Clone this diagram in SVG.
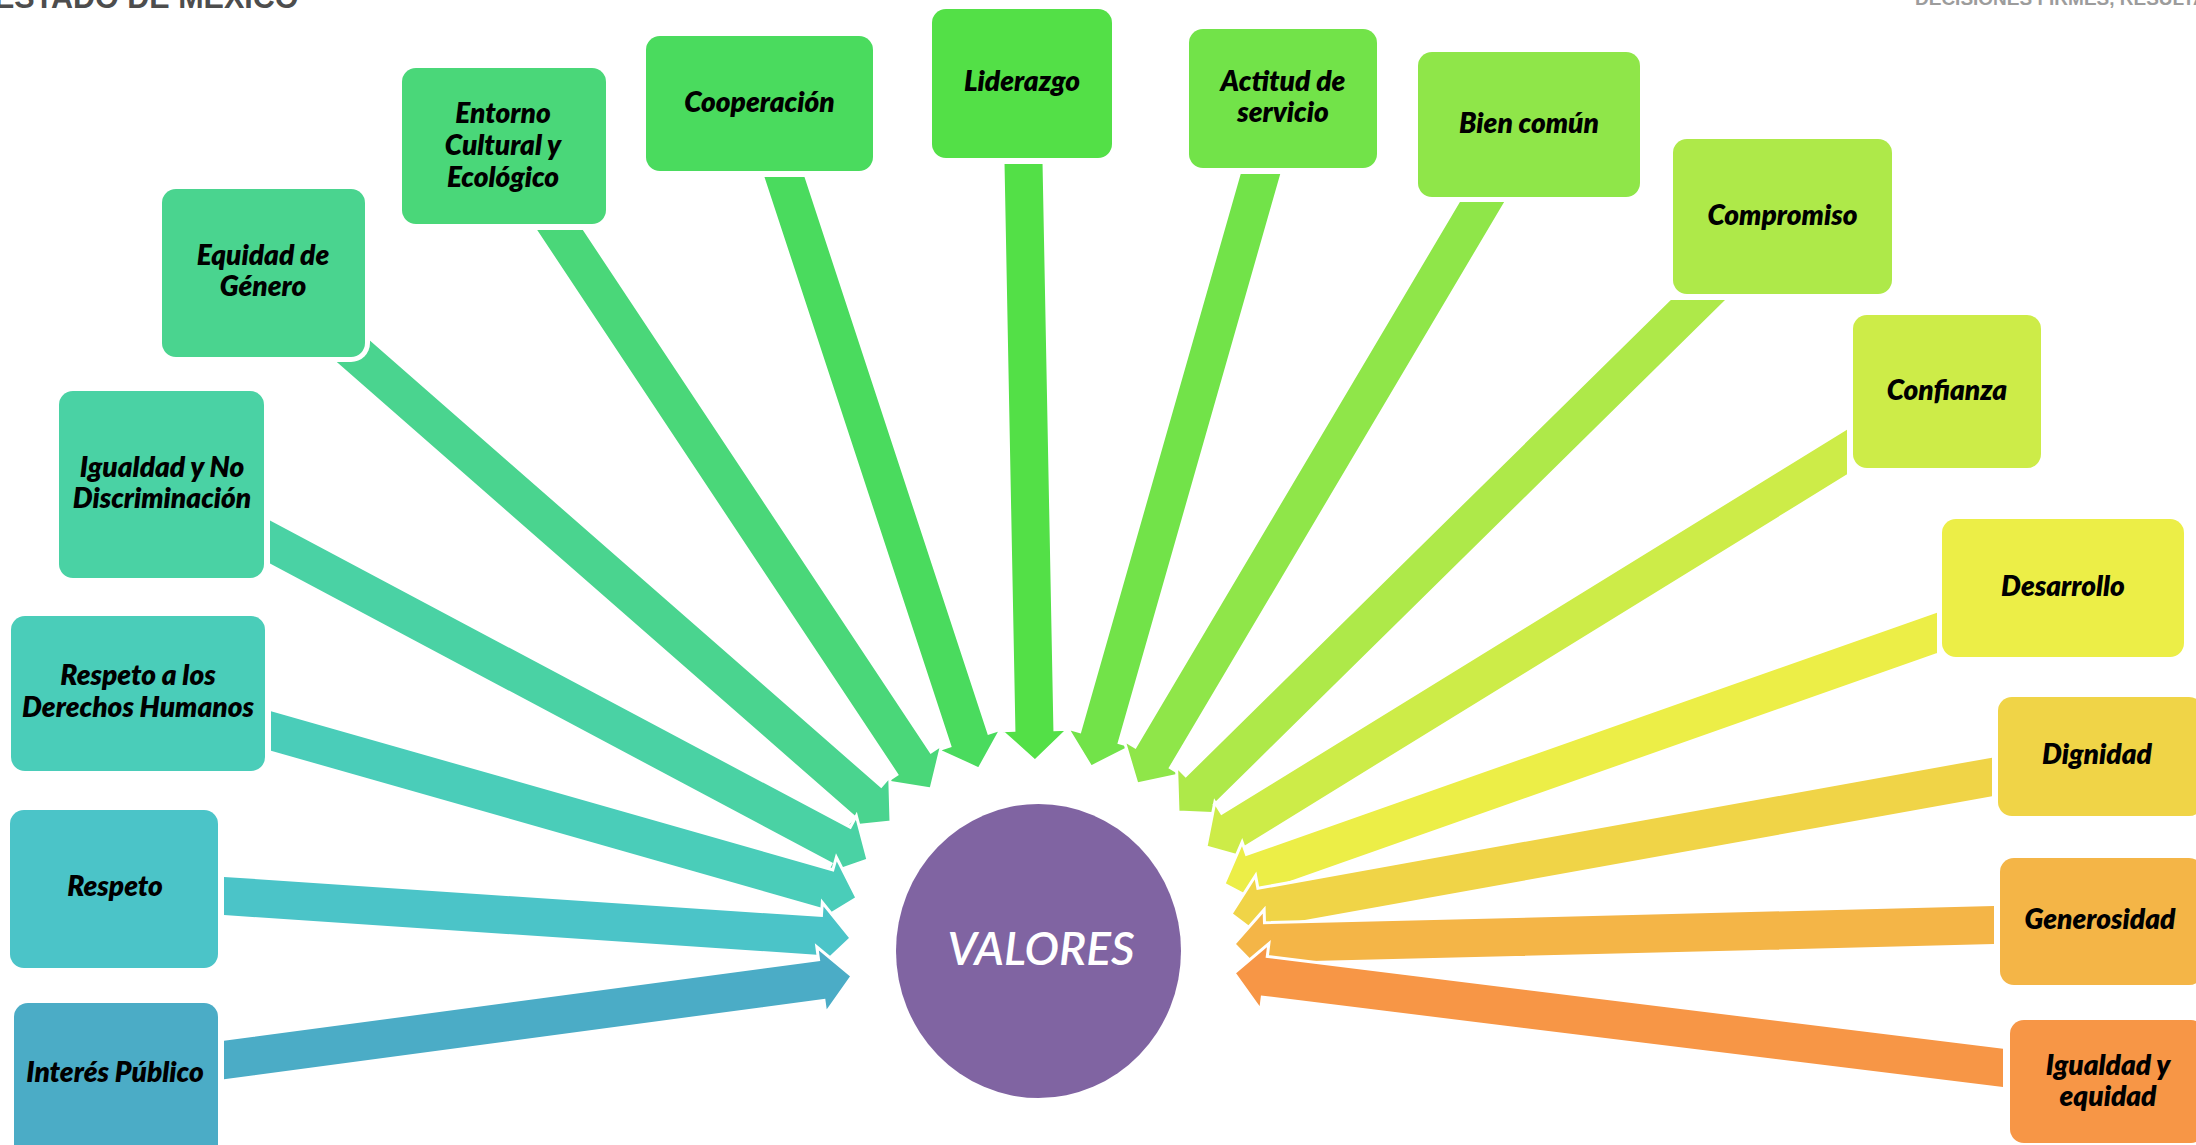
<svg xmlns="http://www.w3.org/2000/svg" width="2196" height="1145" viewBox="0 0 2196 1145">
<style>
.lbl{font-family:Lato,"Open Sans","Liberation Sans",sans-serif;font-weight:800;font-style:italic;font-size:28px;fill:#000;text-anchor:middle}
.pad{fill:#fff}
.arr{stroke:#fff;stroke-width:3;stroke-linejoin:miter}
.hdr{font-family:"Liberation Sans",Arial,sans-serif;font-weight:700}
</style>
<defs>
<clipPath id="c1"><rect x="224" y="0" width="1972" height="1145"/></clipPath>
<clipPath id="c3"><rect x="271" y="0" width="1925" height="1145"/></clipPath>
<clipPath id="c4"><rect x="270" y="0" width="1926" height="1145"/></clipPath>
<clipPath id="c6"><rect x="0" y="230" width="2196" height="915"/></clipPath>
<clipPath id="c7"><rect x="0" y="177" width="2196" height="968"/></clipPath>
<clipPath id="c8"><rect x="0" y="164" width="2196" height="981"/></clipPath>
<clipPath id="c9"><rect x="0" y="174" width="2196" height="971"/></clipPath>
<clipPath id="c10"><rect x="0" y="202" width="2196" height="943"/></clipPath>
<clipPath id="c11"><rect x="0" y="300" width="2196" height="845"/></clipPath>
<clipPath id="c12"><rect x="0" y="0" width="1847" height="1145"/></clipPath>
<clipPath id="c13"><rect x="0" y="0" width="1937" height="1145"/></clipPath>
<clipPath id="c14"><rect x="0" y="0" width="1992" height="1145"/></clipPath>
<clipPath id="c15"><rect x="0" y="0" width="1994" height="1145"/></clipPath>
<clipPath id="c16"><rect x="0" y="0" width="2003" height="1145"/></clipPath>
</defs>
<rect x="0" y="0" width="2196" height="1145" fill="#fff"/>
<text class="hdr" x="-6" y="8" font-size="30.5" fill="#4d4d4d">ESTADO DE MÉXICO</text>
<text class="hdr" x="1915" y="5" font-size="19" fill="#9c9c9c">DECISIONES FIRMES, RESULTADOS FUERTES</text>
<g id="connectors">
<g clip-path="url(#c8)"><polygon class="arr" fill="#53E047" transform="translate(1035 761) rotate(88.90)" points="-637,-20.5 -31,-20.5 -31,-33.5 0,0 -31,33.5 -31,20.5 -637,20.5"/></g>
<g clip-path="url(#c7)"><polygon class="arr" fill="#4ADB5E" transform="translate(979 769) rotate(71.81)" points="-663,-20.5 -31,-20.5 -31,-33.5 0,0 -31,33.5 -31,20.5 -663,20.5"/></g>
<g clip-path="url(#c6)"><polygon class="arr" fill="#4AD779" transform="translate(931 789) rotate(56.43)" points="-711,-20.5 -31,-20.5 -31,-33.5 0,0 -31,33.5 -31,20.5 -711,20.5"/></g>
<g><polygon class="arr" fill="#4AD48F" transform="translate(891 822) rotate(41.20)" points="-729,-20.5 -31,-20.5 -31,-33.5 0,0 -31,33.5 -31,20.5 -729,20.5"/></g>
<g clip-path="url(#c4)"><polygon class="arr" fill="#4AD2A4" transform="translate(868 860) rotate(28.00)" points="-717,-20.5 -31,-20.5 -31,-33.5 0,0 -31,33.5 -31,20.5 -717,20.5"/></g>
<g clip-path="url(#c3)"><polygon class="arr" fill="#4ACDB9" transform="translate(857 898) rotate(15.91)" points="-649,-20.5 -31,-20.5 -31,-33.5 0,0 -31,33.5 -31,20.5 -649,20.5"/></g>
<g clip-path="url(#c1)"><polygon class="arr" fill="#4BC4C8" transform="translate(851 938) rotate(3.83)" points="-668,-20.5 -31,-20.5 -31,-33.5 0,0 -31,33.5 -31,20.5 -668,20.5"/></g>
<g clip-path="url(#c1)"><polygon class="arr" fill="#4BACC6" transform="translate(852 976) rotate(-7.62)" points="-674,-20.5 -31,-20.5 -31,-33.5 0,0 -31,33.5 -31,20.5 -674,20.5"/></g>
<g clip-path="url(#c9)"><polygon class="arr" fill="#72E349" transform="translate(1091 767) rotate(105.95)" points="-657,-20.5 -31,-20.5 -31,-33.5 0,0 -31,33.5 -31,20.5 -657,20.5"/></g>
<g clip-path="url(#c10)"><polygon class="arr" fill="#8FE649" transform="translate(1137 784) rotate(120.66)" points="-717,-20.5 -31,-20.5 -31,-33.5 0,0 -31,33.5 -31,20.5 -717,20.5"/></g>
<g clip-path="url(#c11)"><polygon class="arr" fill="#AEE949" transform="translate(1178 812) rotate(135.44)" points="-770,-20.5 -31,-20.5 -31,-33.5 0,0 -31,33.5 -31,20.5 -770,20.5"/></g>
<g clip-path="url(#c12)"><polygon class="arr" fill="#CDEC48" transform="translate(1206 847) rotate(148.36)" points="-793,-20.5 -31,-20.5 -31,-33.5 0,0 -31,33.5 -31,20.5 -793,20.5"/></g>
<g clip-path="url(#c13)"><polygon class="arr" fill="#ECEE47" transform="translate(1224 884) rotate(160.60)" points="-796,-20.5 -31,-20.5 -31,-33.5 0,0 -31,33.5 -31,20.5 -796,20.5"/></g>
<g clip-path="url(#c14)"><polygon class="arr" fill="#F0D447" transform="translate(1231 914) rotate(169.79)" points="-813,-20.5 -31,-20.5 -31,-33.5 0,0 -31,33.5 -31,20.5 -813,20.5"/></g>
<g clip-path="url(#c15)"><polygon class="arr" fill="#F4B547" transform="translate(1234 944) rotate(178.57)" points="-800,-20.5 -31,-20.5 -31,-33.5 0,0 -31,33.5 -31,20.5 -800,20.5"/></g>
<g clip-path="url(#c16)"><polygon class="arr" fill="#F79646" transform="translate(1234 973) rotate(187.04)" points="-815,-20.5 -31,-20.5 -31,-33.5 0,0 -31,33.5 -31,20.5 -815,20.5"/></g>
</g>
<g id="node-valores">
<ellipse cx="1038.5" cy="951" rx="142.5" ry="147" fill="#8064A2"/>
<text x="1041" y="965" font-family="Lato,'Open Sans','Liberation Sans',sans-serif" font-style="italic" font-weight="600" font-size="46" fill="#fff" text-anchor="middle">VALORES</text>
</g>
<g id="node-interes-publico">
<rect class="pad" x="9" y="998" width="214" height="170" rx="19"/>
<rect x="14" y="1003" width="204" height="160" rx="14" fill="#4BACC6"/>
<text class="lbl" x="115" y="1082">Interés Público</text>
</g>
<g id="node-respeto">
<rect class="pad" x="5" y="805" width="218" height="168" rx="19"/>
<rect x="10" y="810" width="208" height="158" rx="14" fill="#4BC4C8"/>
<text class="lbl" x="115" y="896">Respeto</text>
</g>
<g id="node-respeto-dh">
<rect class="pad" x="6" y="611" width="264" height="165" rx="19"/>
<rect x="11" y="616" width="254" height="155" rx="14" fill="#4ACDB9"/>
<text class="lbl" x="138" y="685">Respeto a los</text>
<text class="lbl" x="138" y="717">Derechos Humanos</text>
</g>
<g id="node-igualdad-no-discriminacion">
<rect class="pad" x="54" y="386" width="215" height="197" rx="19"/>
<rect x="59" y="391" width="205" height="187" rx="14" fill="#4AD2A4"/>
<text class="lbl" x="162" y="477">Igualdad y No</text>
<text class="lbl" x="162" y="508">Discriminación</text>
</g>
<g id="node-equidad-genero">
<rect class="pad" x="157" y="184" width="213" height="178" rx="19"/>
<rect x="162" y="189" width="203" height="168" rx="14" fill="#4AD48F"/>
<text class="lbl" x="263" y="265">Equidad de</text>
<text class="lbl" x="263" y="296">Género</text>
</g>
<g id="node-entorno">
<rect class="pad" x="397" y="63" width="214" height="166" rx="19"/>
<rect x="402" y="68" width="204" height="156" rx="14" fill="#4AD779"/>
<text class="lbl" x="503" y="123">Entorno</text>
<text class="lbl" x="503" y="155">Cultural y</text>
<text class="lbl" x="503" y="187">Ecológico</text>
</g>
<g id="node-cooperacion">
<rect class="pad" x="641" y="31" width="237" height="145" rx="19"/>
<rect x="646" y="36" width="227" height="135" rx="14" fill="#4ADB5E"/>
<text class="lbl" x="759.5" y="112">Cooperación</text>
</g>
<g id="node-liderazgo">
<rect class="pad" x="927" y="4" width="190" height="159" rx="19"/>
<rect x="932" y="9" width="180" height="149" rx="14" fill="#53E047"/>
<text class="lbl" x="1022" y="91">Liderazgo</text>
</g>
<g id="node-actitud">
<rect class="pad" x="1184" y="24" width="198" height="149" rx="19"/>
<rect x="1189" y="29" width="188" height="139" rx="14" fill="#72E349"/>
<text class="lbl" x="1283" y="91">Actitud de</text>
<text class="lbl" x="1283" y="122">servicio</text>
</g>
<g id="node-bien-comun">
<rect class="pad" x="1413" y="47" width="232" height="155" rx="19"/>
<rect x="1418" y="52" width="222" height="145" rx="14" fill="#8FE649"/>
<text class="lbl" x="1529" y="133">Bien común</text>
</g>
<g id="node-compromiso">
<rect class="pad" x="1668" y="134" width="229" height="165" rx="19"/>
<rect x="1673" y="139" width="219" height="155" rx="14" fill="#AEE949"/>
<text class="lbl" x="1782.5" y="225">Compromiso</text>
</g>
<g id="node-confianza">
<rect class="pad" x="1848" y="310" width="198" height="163" rx="19"/>
<rect x="1853" y="315" width="188" height="153" rx="14" fill="#CDEC48"/>
<text class="lbl" x="1947" y="400">Confianza</text>
</g>
<g id="node-desarrollo">
<rect class="pad" x="1937" y="514" width="252" height="148" rx="19"/>
<rect x="1942" y="519" width="242" height="138" rx="14" fill="#ECEE47"/>
<text class="lbl" x="2063" y="596">Desarrollo</text>
</g>
<g id="node-dignidad">
<rect class="pad" x="1993" y="692" width="215" height="129" rx="19"/>
<rect x="1998" y="697" width="205" height="119" rx="14" fill="#F0D447"/>
<text class="lbl" x="2097" y="764">Dignidad</text>
</g>
<g id="node-generosidad">
<rect class="pad" x="1995" y="853" width="213" height="137" rx="19"/>
<rect x="2000" y="858" width="203" height="127" rx="14" fill="#F4B547"/>
<text class="lbl" x="2100" y="929">Generosidad</text>
</g>
<g id="node-igualdad-equidad">
<rect class="pad" x="2005" y="1015" width="205" height="133" rx="19"/>
<rect x="2010" y="1020" width="195" height="123" rx="14" fill="#F79646"/>
<text class="lbl" x="2108" y="1075">Igualdad y</text>
<text class="lbl" x="2108" y="1106">equidad</text>
</g>
</svg>
